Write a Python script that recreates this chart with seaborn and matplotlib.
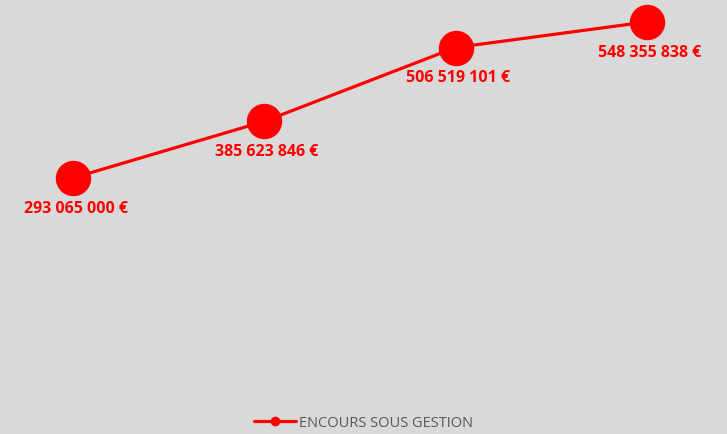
import matplotlib
matplotlib.use("Agg")
import matplotlib.pyplot as plt
import seaborn as sns
import pandas as pd

# Données
periodes = ["P1", "P2", "P3", "P4"]
encours = [293065000, 385623846, 506519101, 548355838]
etiquettes = ["293 065 000 €", "385 623 846 €", "506 519 101 €", "548 355 838 €"]
serie = "ENCOURS SOUS GESTION"

df = pd.DataFrame({"Periode": periodes, "Encours": encours, "Serie": serie})

sns.set_theme(style="white")
plt.rcParams["font.family"] = ["Open Sans", "DejaVu Sans"]

fig = plt.figure(figsize=(7.27, 4.35), dpi=100, facecolor="#d9d9d9")
ax = fig.add_axes([0, 0.177, 1, 0.823])
ax.set_facecolor("#d9d9d9")

sns.lineplot(
    data=df, x="Periode", y="Encours", hue="Serie", palette=["#ff0000"],
    marker="o", markersize=25.5, markeredgewidth=0, linewidth=2.3, ax=ax,
    sort=False
)

# Étiquettes sous chaque point
for i, (v, lab) in enumerate(zip(encours, etiquettes)):
    ax.annotate(lab, (i, v), xytext=(2, -21.5), textcoords="offset points",
                ha="center", va="center", color="#ff0000",
                fontsize=11.5, fontweight="bold")

ax.set_xlim(-0.3816, 3.4188)
ax.set_ylim(0, 585.9e6)
ax.set_axis_off()

# légende en bas au centre
leg = fig.legend(*ax.get_legend_handles_labels(), loc="center",
                 bbox_to_anchor=(0.5, 1 - 424 / 435),
                 frameon=False, handlelength=2.9, handletextpad=0.2,
                 prop={"size": 10.5})
ax.get_legend().remove()
for h in leg.legend_handles:
    h.set_markersize(7)
for t in leg.get_texts():
    t.set_color("#595959")

fig.savefig("out.png", dpi=100, facecolor=fig.get_facecolor())
